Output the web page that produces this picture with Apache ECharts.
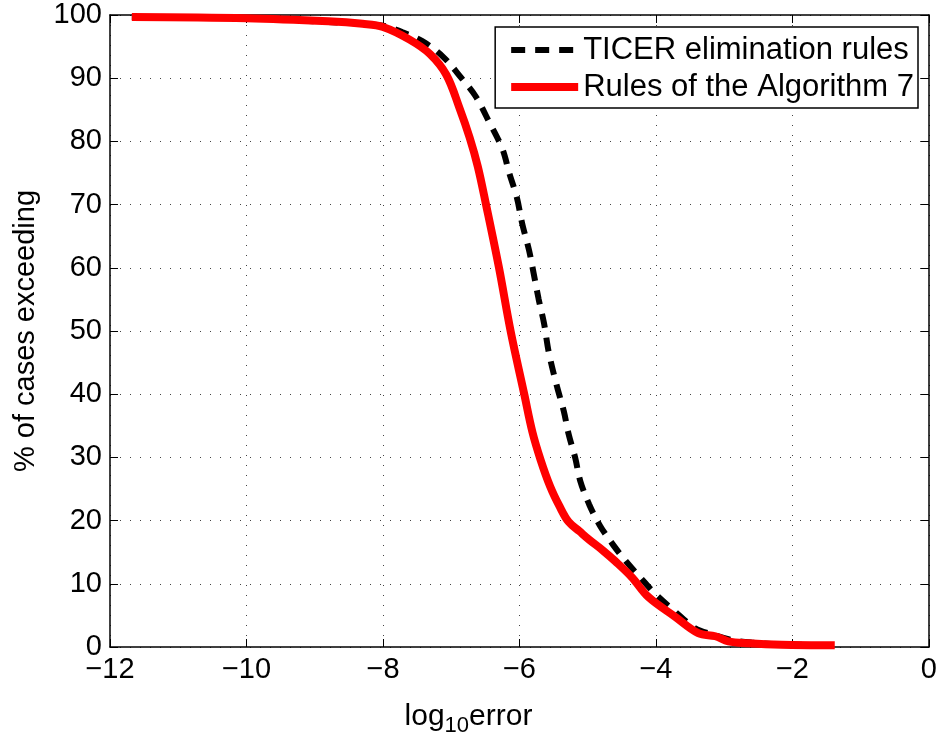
<!DOCTYPE html>
<html>
<head>
<meta charset="utf-8">
<script src="https://cdn.jsdelivr.net/npm/echarts@6/dist/echarts.min.js"></script>
<style>
  html, body { margin: 0; padding: 0; background: #fff; }
  #chart { width: 940px; height: 742px; }
</style>
</head>
<body>
<div id="chart"></div>
<script>
// series names
const seriesNames = ['TICER elimination rules', 'Rules of the Algorithm 7']

// TICER curve: [log10 error, % of cases exceeding]
const ticerPoints = [
  [-11.68, 99.7], [-10, 99.5], [-9, 99.0], [-8.0, 98.3], [-7.72, 97.3],
  [-7.43, 95.9], [-7.13, 93.5], [-6.84, 89.9], [-6.64, 87.1], [-6.45, 83.2],
  [-6.25, 78.8], [-6.15, 75.0], [-6.04, 71.2], [-5.96, 67.0], [-5.86, 62.8],
  [-5.79, 59.0], [-5.72, 55.1], [-5.64, 51.2], [-5.57, 46.6], [-5.45, 41.2],
  [-5.35, 37.3], [-5.28, 33.7], [-5.18, 29.8], [-5.11, 26.3], [-4.98, 22.6],
  [-4.82, 19.2], [-4.63, 16.2], [-4.45, 13.7], [-4.23, 11.0], [-4.01, 8.4],
  [-3.74, 5.8], [-3.43, 3.0], [-3.18, 2.0], [-2.89, 1.1], [-2.6, 0.7],
  [-2.1, 0.4], [-1.38, 0.3]
]

// Algorithm 7 curve
const algoPoints = [
  [-11.68, 99.7], [-10, 99.5], [-8.8, 99.0], [-8.3, 98.6], [-8.0, 98.1],
  [-7.61, 96.1], [-7.31, 93.8], [-7.07, 90.5], [-6.88, 85.3], [-6.73, 80.6],
  [-6.61, 76.0], [-6.49, 70.0], [-6.30, 60.0], [-6.13, 50.0], [-5.93, 40.0],
  [-5.81, 34.0], [-5.69, 29.6], [-5.55, 25.4], [-5.41, 22.2], [-5.28, 19.8],
  [-5.12, 18.3], [-4.98, 17.0], [-4.78, 15.3], [-4.60, 13.6], [-4.35, 11.0],
  [-4.11, 7.9], [-3.72, 4.8], [-3.38, 2.2], [-3.13, 1.7], [-2.94, 0.9],
  [-2.65, 0.6], [-2.16, 0.35], [-1.38, 0.26]
]

// axis ranges
const xRange = [-12, 0, 2]
const yRange = [0, 100, 10]

const font = 'Liberation Sans, Arial, Helvetica, sans-serif'
const minus = v => String(v).replace('-', '\u2212')
const dotted = { show: true, lineStyle: { type: [1, 9], color: '#444', width: 1 } }

let chart = echarts.init(document.getElementById('chart'), null, { renderer: 'canvas' })

chart.setOption({
  backgroundColor: '#fff',
  animation: false,
  grid: { left: 110, right: 11, top: 15, bottom: 81 },
  legend: {
    data: seriesNames,
    orient: 'vertical',
    right: 22,
    top: 27,
    padding: [6, 4, 4, 12],
    itemGap: 3,
    itemWidth: 67,
    itemHeight: 16,
    backgroundColor: '#fff',
    borderColor: '#000',
    borderWidth: 1.5,
    borderRadius: 0,
    itemStyle: { opacity: 0 },
    lineStyle: { width: 'inherit', type: 'inherit' },
    textStyle: { fontFamily: font, fontSize: 31, color: '#000', lineHeight: 34 }
  },
  xAxis: [
    {
      type: 'value',
      min: xRange[0],
      max: xRange[1],
      interval: xRange[2],
      position: 'bottom',
      axisLine: { show: true, onZero: false, lineStyle: { color: '#000', width: 1.5 } },
      axisTick: { show: true, inside: true, length: 8, lineStyle: { color: '#000' } },
      axisLabel: { fontFamily: font, fontSize: 29, color: '#000', margin: 8, formatter: minus },
      splitLine: dotted,
      name: '{a|log}{b|10}{a|error}',
      nameLocation: 'middle',
      nameGap: 50,
      nameTextStyle: {
        padding: [0, 102, 0, 0],
        rich: {
          a: { fontFamily: font, fontSize: 30, color: '#000' },
          b: { fontFamily: font, fontSize: 22, color: '#000', padding: [18, 0, 0, 0] }
        }
      }
    },
    {
      type: 'value',
      min: xRange[0],
      max: xRange[1],
      interval: xRange[2],
      position: 'top',
      axisLine: { show: true, onZero: false, lineStyle: { color: '#000', width: 1.5 } },
      axisTick: { show: true, inside: true, length: 8, lineStyle: { color: '#000' } },
      axisLabel: { show: false },
      splitLine: { show: false }
    }
  ],
  yAxis: [
    {
      type: 'value',
      min: yRange[0],
      max: yRange[1],
      interval: yRange[2],
      position: 'left',
      axisLine: { show: true, onZero: false, lineStyle: { color: '#000', width: 1.5 } },
      axisTick: { show: true, inside: true, length: 8, lineStyle: { color: '#000' } },
      axisLabel: { fontFamily: font, fontSize: 29, color: '#000', margin: 8 },
      splitLine: dotted,
      name: '% of cases exceeding',
      nameLocation: 'middle',
      nameGap: 70,
      nameTextStyle: { fontFamily: font, fontSize: 29, color: '#000' }
    },
    {
      type: 'value',
      min: yRange[0],
      max: yRange[1],
      interval: yRange[2],
      position: 'right',
      axisLine: { show: true, onZero: false, lineStyle: { color: '#000', width: 1.5 } },
      axisTick: { show: true, inside: true, length: 8, lineStyle: { color: '#000' } },
      axisLabel: { show: false },
      splitLine: { show: false }
    }
  ],
  series: [
    {
      name: seriesNames[0],
      type: 'line',
      data: ticerPoints,
      showSymbol: false,
      symbol: 'none',
      smooth: 0.35,
      itemStyle: { color: '#000' },
      lineStyle: { color: '#000', width: 6, type: [14, 10] }
    },
    {
      name: seriesNames[1],
      type: 'line',
      data: algoPoints,
      showSymbol: false,
      symbol: 'none',
      smooth: 0.35,
      itemStyle: { color: '#ff0000' },
      lineStyle: { color: '#ff0000', width: 8 }
    }
  ]
})
</script>
</body>
</html>
